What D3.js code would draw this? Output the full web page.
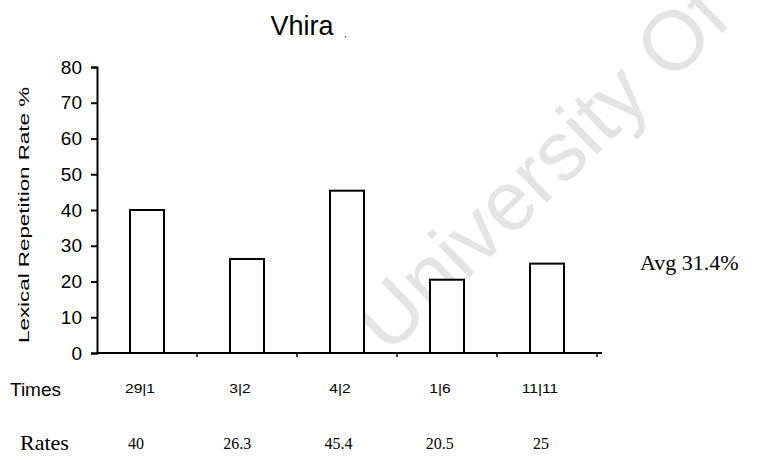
<!DOCTYPE html>
<html>
<head>
<meta charset="utf-8">
<script src="https://cdn.jsdelivr.net/npm/d3@7"></script>
<style>
  body { margin: 0; background: #fff; }
  .sans { font-family: Arial, "Liberation Sans", sans-serif; }
  .serif { font-family: "Times New Roman", "Liberation Serif", serif; }
</style>
</head>
<body>
<div id="chart"></div>
<script>
// data
var times = ["29|1", "3|2", "4|2", "1|6", "11|11"];
var rates = [40, 26.3, 45.4, 20.5, 25];
var yTicks = [0, 10, 20, 30, 40, 50, 60, 70, 80];
var avgText = "Avg 31.4%";

var svgWidth = 766;
var svgHeight = 466;

var margin = { top: 67, left: 97, right: 164, bottom: 113 };
var width = svgWidth - margin.left - margin.right;
var height = svgHeight - margin.top - margin.bottom;

var svg = d3.select("#chart")
    .append("svg")
    .attr("width", svgWidth)
    .attr("height", svgHeight);

// watermark
svg.append("text")
    .attr("class", "sans")
    .attr("transform", "translate(388,356) rotate(-44)")
    .attr("font-size", 84)
    .attr("fill", "#e4e4e4")
    .text("University Of");

var chartGroup = svg.append("g")
    .attr("transform", `translate(${margin.left}, ${margin.top})`);

// scales
var xBand = d3.scaleBand()
    .domain(times)
    .range([0, 500])
    .paddingInner(0.66)
    .paddingOuter(0.33);

var yLinearScale = d3.scaleLinear().domain([0, 80]).range([height, 0]);

// rates row sits on its own spacing
var rateX = d3.scaleLinear().domain([0, 4]).range([136, 541]);

// bars
chartGroup.selectAll("rect")
    .data(rates)
    .enter()
    .append("rect")
    .attr("x", (d, i) => xBand(times[i]))
    .attr("y", d => yLinearScale(d))
    .attr("width", xBand.bandwidth())
    .attr("height", d => height - yLinearScale(d))
    .attr("fill", "#fff")
    .attr("stroke", "#000")
    .attr("stroke-width", 2);

// y axis
var leftAxis = d3.axisLeft(yLinearScale).tickValues(yTicks).tickSize(6).tickPadding(9);
var yAxisG = chartGroup.append("g").call(leftAxis);
yAxisG.select(".domain").attr("stroke-width", 2);
yAxisG.selectAll(".tick line").attr("stroke-width", 2);
yAxisG.selectAll("text")
    .attr("class", "sans")
    .attr("font-size", 19)
    .attr("fill", "#000");

// x axis line
chartGroup.append("line")
    .attr("x1", 0).attr("x2", 505)
    .attr("y1", height).attr("y2", height)
    .attr("stroke", "#000")
    .attr("stroke-width", 2);

// x ticks at band edges
var step = xBand.step();
chartGroup.selectAll(".xtick")
    .data(times)
    .enter()
    .append("line")
    .attr("class", "xtick")
    .attr("x1", (d) => xBand(d) + xBand.bandwidth() / 2 + step / 2)
    .attr("x2", (d) => xBand(d) + xBand.bandwidth() / 2 + step / 2)
    .attr("y1", height)
    .attr("y2", height + 4)
    .attr("stroke", "#000")
    .attr("stroke-width", 1.5);

// y label
svg.append("text")
    .attr("class", "sans")
    .attr("transform", "translate(29,215) rotate(-90)")
    .attr("text-anchor", "middle")
    .attr("font-size", 15)
    .attr("textLength", 256)
    .attr("lengthAdjust", "spacingAndGlyphs")
    .text("Lexical Repetition Rate %");

// title
svg.append("text")
    .attr("class", "sans")
    .attr("x", 302)
    .attr("y", 35)
    .attr("text-anchor", "middle")
    .attr("font-size", 27)
    .text("Vhira");
svg.append("text")
    .attr("class", "sans")
    .attr("x", 344)
    .attr("y", 37)
    .attr("font-size", 9)
    .text(",");

// times row
svg.append("text")
    .attr("class", "sans")
    .attr("x", 10)
    .attr("y", 396)
    .attr("font-size", 19)
    .text("Times");
svg.selectAll(".tlabel")
    .data(times)
    .enter()
    .append("text")
    .attr("class", "tlabel sans")
    .attr("transform", d => `translate(${margin.left + xBand(d) + xBand.bandwidth() / 2 - 7},393) scale(1.2,1)`)
    .attr("text-anchor", "middle")
    .attr("font-size", 13)
    .text(d => d);

// rates row
svg.append("text")
    .attr("class", "serif")
    .attr("x", 20)
    .attr("y", 450)
    .attr("font-size", 22)
    .text("Rates");
svg.selectAll(".rlabel")
    .data(rates)
    .enter()
    .append("text")
    .attr("class", "rlabel serif")
    .attr("x", (d, i) => rateX(i))
    .attr("y", 449)
    .attr("text-anchor", "middle")
    .attr("font-size", 16)
    .text(d => d);

// average
svg.append("text")
    .attr("class", "serif")
    .attr("x", 640)
    .attr("y", 270)
    .attr("font-size", 22)
    .text(avgText);
</script>
</body>
</html>
